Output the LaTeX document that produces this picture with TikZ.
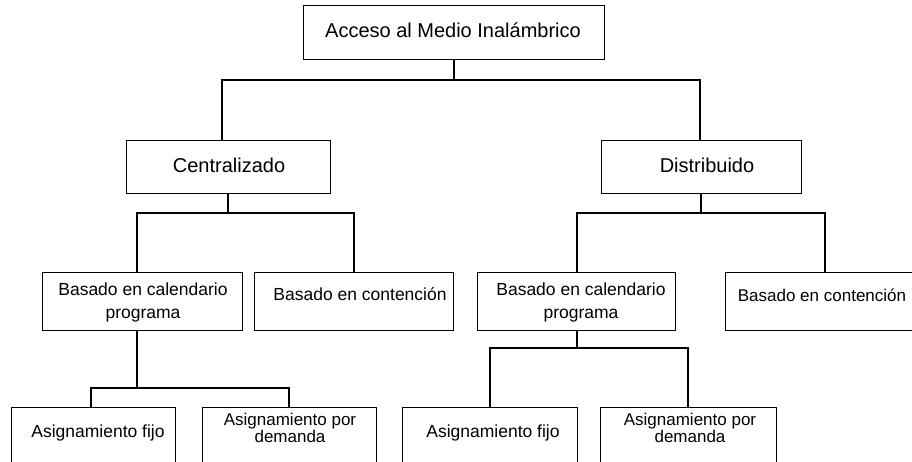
\documentclass[tikz,border=0pt]{standalone}
\usepackage{fontspec}
\setmainfont{Liberation Sans}
\begin{document}
\begin{tikzpicture}[x=1pt,y=-1pt,
  box/.style={draw, line width=0.8pt, inner sep=0pt, anchor=north west},
  conn/.style={line width=2pt},
  toplbl/.style={font=\fontsize{20}{24}\selectfont, inner sep=0pt, anchor=base},
  lbl/.style={font=\fontsize{17.5}{23}\selectfont, inner sep=0pt, anchor=base},
  twolbl/.style={font=\fontsize{17.5}{23}\selectfont, inner sep=0pt, align=center},
  tightlbl/.style={font=\fontsize{17}{17}\selectfont, inner sep=0pt, align=center}]
\clip (0,0) rectangle (912,461);
\fill[white] (0,0) rectangle (912,461);

% boxes
\node[box, minimum width=301pt, minimum height=54pt] (root) at (303,5) {};
\node[box, minimum width=204pt, minimum height=53pt] (cen) at (126,140) {};
\node[box, minimum width=200pt, minimum height=53pt] (dis) at (601,140) {};
\node[box, minimum width=200pt, minimum height=58pt] (cal1) at (42,272) {};
\node[box, minimum width=199pt, minimum height=58pt] (con1) at (254,272) {};
\node[box, minimum width=198pt, minimum height=58pt] (cal2) at (477,272) {};
\node[box, minimum width=199pt, minimum height=58pt] (con2) at (725,272) {};
\node[box, minimum width=164pt, minimum height=70pt] (af1) at (11,407) {};
\node[box, minimum width=174pt, minimum height=70pt] (pd1) at (202,407) {};
\node[box, minimum width=175pt, minimum height=70pt] (af2) at (402,407) {};
\node[box, minimum width=176pt, minimum height=70pt] (pd2) at (600,407) {};

% labels
\node[toplbl] (rootT) at (453,37) {Acceso al Medio Inalámbrico};
\node[toplbl] (cenT) at (229,172) {Centralizado};
\node[toplbl] (disT) at (707,172) {Distribuido};
\node[twolbl] (cal1T) at (143,302) {Basado en calendario\\programa};
\node[lbl] (con1T) at (360,300) {Basado en contención};
\node[twolbl] (cal2T) at (581,302) {Basado en calendario\\programa};
\node[lbl, font=\fontsize{17}{23}\selectfont] (con2T) at (822,301) {Basado en contención};
\node[lbl] (af1T) at (98,437) {Asignamiento fijo};
\node[tightlbl] (pd1T) at (290,427.5) {Asignamiento por\\demanda};
\node[lbl] (af2T) at (493,437) {Asignamiento fijo};
\node[tightlbl] (pd2T) at (690,427.5) {Asignamiento por\\demanda};

% junction bars
\coordinate (b1l) at (222,80);  \coordinate (b1r) at (700,80);
\coordinate (b2l) at (137,213); \coordinate (b2r) at (354,213);
\coordinate (b3l) at (577,213); \coordinate (b3r) at (825,213);
\coordinate (b4l) at (91,388);  \coordinate (b4r) at (289,388);
\coordinate (b5l) at (490,348); \coordinate (b5r) at (688,348);

% root to first level
\draw[conn] (root.south) -- (root.south |- b1l);
\draw[conn] (cen.north -| b1l) -- (b1l) -- (b1r) -- (b1r |- dis.north);

% centralised branch
\draw[conn] (cen.south) -- (cen.south |- b2l);
\draw[conn] (cal1.north -| b2l) -- (b2l) -- (b2r) -- (b2r |- con1.north);

% distributed branch
\draw[conn] (dis.south) -- (dis.south |- b3l);
\draw[conn] (cal2.north -| b3l) -- (b3l) -- (b3r) -- (b3r |- con2.north);

% schedule-based, centralised
\draw[conn] (cal1.south -| b2l) -- (b2l |- b4l);
\draw[conn] (af1.north -| b4l) -- (b4l) -- (b4r) -- (b4r |- pd1.north);

% schedule-based, distributed
\draw[conn] (cal2.south -| b3l) -- (b3l |- b5l);
\draw[conn] (af2.north -| b5l) -- (b5l) -- (b5r) -- (b5r |- pd2.north);
\end{tikzpicture}
\end{document}
